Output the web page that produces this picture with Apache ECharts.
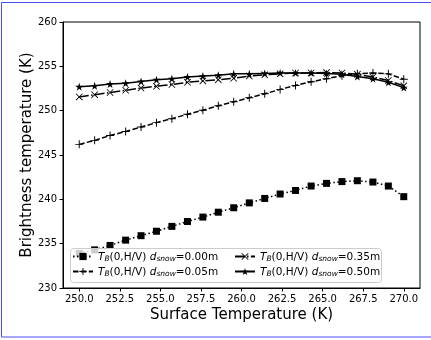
<!DOCTYPE html>
<html>
<head>
<meta charset="utf-8">
<script src="https://cdn.jsdelivr.net/npm/echarts@6/dist/echarts.min.js"></script>
<style>
  html, body { margin: 0; padding: 0; background: #fff; }
  #chart { width: 431px; height: 340px; }
</style>
</head>
<body>
<div id="chart"></div>
<script>
// surface temperature (K), 22 samples from 250 to 270
var surfaceTemp = [250.00, 250.95, 251.90, 252.86, 253.81, 254.76, 255.71, 256.67, 257.62, 258.57, 259.52,
                   260.48, 261.43, 262.38, 263.33, 264.29, 265.24, 266.19, 267.14, 268.10, 269.05, 270.00];
// brightness temperature (K) per snow depth
var tb000 = [233.9, 234.3, 234.8, 235.4, 235.9, 236.4, 236.95, 237.5, 238.0, 238.55, 239.05,
             239.6, 240.1, 240.6, 241.0, 241.5, 241.8, 242.0, 242.1, 241.95, 241.5, 240.3];
var tb005 = [246.2, 246.65, 247.2, 247.65, 248.15, 248.65, 249.1, 249.6, 250.05, 250.55, 251.0,
             251.45, 251.9, 252.4, 252.85, 253.25, 253.6, 253.95, 254.15, 254.25, 254.15, 253.55];
var tb035 = [251.55, 251.8, 252.05, 252.3, 252.55, 252.75, 252.95, 253.2, 253.35, 253.5, 253.65,
             253.9, 254.05, 254.15, 254.25, 254.25, 254.3, 254.25, 254.1, 253.8, 253.4, 252.8];
var tb050 = [252.7, 252.8, 253.0, 253.1, 253.3, 253.5, 253.6, 253.8, 253.9, 254.0, 254.15,
             254.15, 254.2, 254.25, 254.25, 254.25, 254.2, 254.1, 253.85, 253.6, 253.2, 252.6];
var depths = ['0.00', '0.05', '0.35', '0.50'];
var xTicks = [250, 252.5, 255, 257.5, 260, 262.5, 265, 267.5, 270];

var font = 'DejaVu Sans';
var plusPath = 'path://M0,4.4H10V5.6H0Z M4.4,0H5.6V10H4.4Z';
var crossPath = 'path://M0,0.85L0.85,0L10,9.15L9.15,10Z M9.15,0L10,0.85L0.85,10L0,9.15Z';
var starPath = 'path://M5,0L6.123,3.455L9.755,3.455L6.816,5.59L7.939,9.045L5,6.91L2.061,9.045L3.184,5.59L0.245,3.455L3.877,3.455Z';

function pairs(ys) {
  return surfaceTemp.map(function (x, i) { return [x, ys[i]]; });
}

function makeSeries(name, ys, symbol, size, dash) {
  return {
    name: name,
    type: 'line',
    data: pairs(ys),
    symbol: symbol,
    symbolSize: size,
    lineStyle: { color: '#000', width: 1.5, type: dash },
    itemStyle: { color: '#000', borderWidth: 0 },
    emphasis: { disabled: true }
  };
}

var legendText = {
  fontSize: 10.5,
  color: '#000',
  fontFamily: font,
  rich: {
    n: { fontSize: 10.5, fontFamily: font, lineHeight: 13, verticalAlign: 'bottom' },
    i: { fontSize: 10.5, fontFamily: font, fontStyle: 'italic', lineHeight: 13, verticalAlign: 'bottom' },
    s: { fontSize: 7.5, fontFamily: font, fontStyle: 'italic', lineHeight: 10, verticalAlign: 'bottom' }
  }
};

function legendLabel(name) {
  return '{i|T}{s|B}{n|(0,H/V) }{i|d}{s|snow}{n|=' + name + 'm}';
}

function makeLegend(names, left) {
  return {
    data: names,
    left: left,
    top: 252,
    z: 20,
    orient: 'vertical',
    padding: 0,
    itemGap: 4,
    itemWidth: 20,
    itemHeight: 9,
    textStyle: legendText,
    formatter: legendLabel,
    selectedMode: false
  };
}

var chart = echarts.init(document.getElementById('chart'));
chart.setOption({
  animation: false,
  textStyle: { fontFamily: font },
  graphic: [
    {
      type: 'rect', z: 1, silent: true,
      shape: { x: 1.5, y: 2.5, width: 440, height: 334.5 },
      style: { fill: 'none', stroke: '#4a4af2', lineWidth: 1 }
    },
    {
      type: 'rect', z: 10, silent: true,
      shape: { x: 70.5, y: 248.5, width: 311, height: 34, r: 3 },
      style: { fill: 'rgba(255,255,255,0.8)', stroke: '#cccccc', lineWidth: 1 }
    }
  ],
  grid: {
    left: 63, right: 11, top: 22, bottom: 52,
    show: true, borderColor: '#000', borderWidth: 1
  },
  xAxis: {
    type: 'value',
    min: 249,
    max: 271,
    name: 'Surface Temperature (K)',
    nameLocation: 'middle',
    nameGap: 20,
    nameMoveOverlap: false,
    nameTextStyle: { fontSize: 15, color: '#000', fontFamily: font },
    axisLine: { lineStyle: { color: '#000', width: 1 } },
    axisTick: { customValues: xTicks, length: 3.5, lineStyle: { color: '#000' } },
    axisLabel: {
      customValues: xTicks,
      formatter: function (v) { return v.toFixed(1); },
      color: '#000', fontSize: 10, margin: 6, fontFamily: font
    },
    splitLine: { show: false }
  },
  yAxis: {
    type: 'value',
    min: 230,
    max: 260,
    interval: 5,
    name: 'Brightness temperature (K)',
    nameLocation: 'middle',
    nameGap: 28,
    nameMoveOverlap: false,
    nameTextStyle: { fontSize: 15, color: '#000', fontFamily: font },
    axisLine: { show: true, lineStyle: { color: '#000', width: 1 } },
    axisTick: { show: true, length: 3.5, lineStyle: { color: '#000' } },
    axisLabel: { color: '#000', fontSize: 10, margin: 6, fontFamily: font },
    splitLine: { show: false }
  },
  legend: [
    makeLegend([depths[0], depths[1]], 72),
    makeLegend([depths[2], depths[3]], 234)
  ],
  series: [
    makeSeries(depths[0], tb000, 'rect', 7, [1.5, 2.5]),
    makeSeries(depths[1], tb005, plusPath, 8, [5.5, 2.4]),
    makeSeries(depths[2], tb035, crossPath, 7, [9.6, 2.4, 1.5, 2.4]),
    makeSeries(depths[3], tb050, starPath, 8, 'solid')
  ]
});
</script>
</body>
</html>
